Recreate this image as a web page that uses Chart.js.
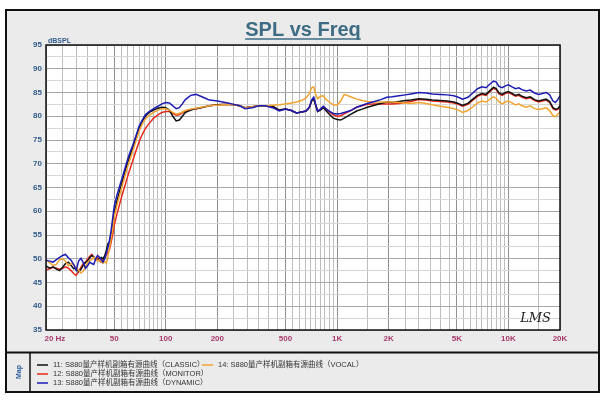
<!DOCTYPE html>
<html>
<head>
<meta charset="utf-8">
<script src="https://cdn.jsdelivr.net/npm/chart.js@4.4.1/dist/chart.umd.min.js"></script>
<style>
  html, body { margin: 0; padding: 0; background: #fff; }
  #wrap { width: 605px; height: 403px; }
</style>
</head>
<body>
<div id="wrap"><canvas id="spl" width="605" height="403"></canvas></div>
<script>
// frequency points (Hz), shared by the four curves
const freqs = [
  20, 21, 22, 23, 24, 25, 26, 27, 28, 29, 30, 31, 32, 33, 34, 35, 36, 37, 38, 39, 40, 41, 42, 43, 44, 45, 46,
  47, 48, 49, 50, 52, 54, 56, 58, 60, 62, 64, 66, 68, 70, 73, 76, 80, 85, 90, 95, 100,
  105, 110, 115, 120, 125, 130, 140, 150, 160, 170, 180, 190, 200,
  215, 230, 250, 270, 290, 320, 350, 380, 420, 460, 500, 540, 580, 620, 660, 690, 710, 730, 750, 770,
  800, 830, 860, 900, 950, 1000, 1050, 1100, 1200, 1300, 1400, 1500, 1650, 1800, 1950,
  2100, 2300, 2500, 2700, 3000, 3300, 3600, 4000, 4400, 4800, 5100, 5400, 5800, 6200, 6600, 7000, 7400, 7800, 8200, 8500,
  8800, 9200, 9600, 10000, 10500, 11000, 11500, 12000, 12700, 13400, 14200, 15000, 15800, 16600, 17400, 18200, 18800, 19400, 20000
];

// dBSPL per series
const classic = [
  48.5, 48.0, 48.3, 47.8, 47.5, 48.2, 49.0, 49.3, 48.6, 47.9, 48.0, 47.3, 47.8, 48.6, 49.2, 49.6, 50.2, 50.7, 50.4, 49.8, 49.7, 50.1, 50.3, 50.0, 50.6, 51.8, 53.2,
  53.5, 55.0, 57.0, 59.5, 62.3, 64.5, 66.5, 68.5, 70.3, 71.8, 73.2, 74.7, 76.2, 77.5, 79.0, 80.0, 80.8, 81.3, 81.7, 81.9, 81.8,
  81.3, 80.0, 79.0, 79.2, 80.0, 80.8, 81.3, 81.6, 81.8, 82.0, 82.2, 82.3, 82.4,
  82.5, 82.5, 82.4, 82.2, 81.8, 82.0, 82.2, 82.2, 82.1, 81.3, 81.5, 81.2, 80.7, 80.9, 81.1, 81.9, 83.2, 83.7, 82.3, 81.0,
  81.3, 81.8, 81.2, 80.4, 79.6, 79.3, 79.2, 79.6, 80.4, 81.1, 81.5, 81.9, 82.3, 82.7, 83.0,
  82.9, 83.1, 83.3, 83.4, 83.7, 83.6, 83.4, 83.3, 83.2, 83.0, 82.7, 82.3, 82.7, 83.6, 84.4, 84.8, 84.6, 85.4, 86.1, 85.8,
  84.9, 84.6, 85.0, 85.2, 84.8, 84.4, 84.6, 84.2, 83.9, 84.1, 83.5, 83.2, 83.4, 83.6, 83.1, 81.8, 81.5, 81.6, 82.2
];
const monitor = [
  47.6, 47.9, 48.2, 48.0, 47.8, 48.0, 48.3, 48.0, 47.5, 46.9, 46.5, 47.3, 48.2, 49.0, 49.3, 49.9, 50.5, 50.9, 50.3, 49.8, 50.2, 49.6, 49.3, 49.8, 50.3, 50.8, 51.4,
  52.0, 53.5, 55.0, 57.0, 59.5, 61.7, 63.8, 65.6, 67.4, 69.0, 70.5, 72.0, 73.4, 74.7, 76.2, 77.4, 78.5, 79.6, 80.3, 80.8, 81.0,
  81.0, 80.6, 80.2, 80.3, 80.7, 81.1, 81.4, 81.6, 81.8, 82.0, 82.2, 82.3, 82.4,
  82.5, 82.5, 82.4, 82.2, 81.8, 82.0, 82.2, 82.2, 82.1, 81.3, 81.5, 81.2, 80.7, 80.9, 81.1, 81.9, 83.2, 83.7, 82.3, 81.0,
  81.5, 82.0, 81.5, 80.9, 80.3, 80.0, 80.1, 80.5, 81.2, 81.9, 82.2, 82.5, 82.6, 82.6, 82.6,
  82.6, 82.7, 82.9, 83.1, 83.5, 83.4, 83.2, 83.1, 83.0, 82.8, 82.5, 82.1, 82.5, 83.4, 84.2, 84.6, 84.4, 85.2, 85.9, 85.6,
  84.7, 84.4, 84.8, 85.0, 84.6, 84.2, 84.4, 84.0, 83.7, 83.9, 83.3, 83.0, 83.2, 83.4, 82.9, 81.6, 81.3, 81.4, 82.0
];
const dynamic = [
  49.7, 49.5, 49.3, 49.8, 50.3, 50.7, 50.9, 50.2, 49.7, 48.8, 47.6, 49.5, 50.1, 49.2, 48.0, 48.5, 49.3, 49.0, 48.8, 50.0, 50.7, 50.3, 49.8, 49.3, 50.0, 51.2, 52.4,
  54.0, 56.0, 58.5, 61.0, 63.5, 65.5, 67.3, 69.2, 71.0, 72.5, 73.8, 75.2, 76.6, 78.0, 79.2, 80.3, 81.0, 81.6, 82.1, 82.6, 82.9,
  82.8, 82.2, 81.6, 81.8, 82.6, 83.5, 84.4, 84.6, 84.2, 83.8, 83.4, 83.3, 83.2,
  83.0, 82.8, 82.5, 82.2, 81.6, 81.8, 82.2, 82.2, 81.8, 81.1, 81.5, 81.2, 80.7, 80.9, 81.1, 82.0, 83.4, 84.0, 82.5, 81.1,
  81.5, 82.1, 81.6, 81.1, 80.6, 80.5, 80.6, 80.8, 81.2, 81.9, 82.3, 82.7, 83.1, 83.5, 84.0,
  84.1, 84.3, 84.5, 84.7, 85.0, 84.9, 84.7, 84.6, 84.5, 84.3, 84.0, 83.6, 84.0, 84.9, 85.8, 86.2, 86.0, 86.8, 87.4, 87.2,
  86.3, 86.0, 86.4, 86.6, 86.2, 85.8, 86.0, 85.6, 85.3, 85.5, 84.9, 84.6, 84.8, 85.0, 84.5, 83.2, 82.9, 83.5, 84.3
];
const vocal = [
  49.7, 49.2, 48.6, 48.8, 49.8, 50.0, 49.5, 48.5, 49.0, 48.7, 48.2, 47.6, 47.0, 47.4, 48.3, 49.2, 49.6, 49.8, 50.3, 50.0, 49.5, 49.8, 49.4, 49.0, 49.4, 49.1, 50.5,
  52.5, 54.3, 56.3, 58.7, 61.4, 63.6, 65.6, 67.6, 69.4, 71.0, 72.5, 74.0, 75.5, 76.9, 78.4, 79.4, 80.2, 80.8, 81.3, 81.6, 81.6,
  81.3, 80.8, 80.5, 80.6, 80.9, 81.2, 81.5, 81.7, 81.9, 82.0, 82.2, 82.3, 82.3,
  82.4, 82.5, 82.4, 82.2, 81.8, 82.0, 82.2, 82.2, 82.3, 82.4, 82.6, 82.8, 83.0, 83.3, 83.9, 84.8, 86.0, 86.2, 84.6, 83.7,
  84.2, 84.3, 83.6, 83.0, 82.4, 82.3, 83.2, 84.6, 84.1, 83.6, 83.3, 83.1, 83.0, 83.0, 83.0,
  83.0, 82.9, 82.8, 82.7, 82.9, 82.7, 82.4, 82.1, 81.9, 81.6, 81.3, 80.8, 81.2, 82.0, 82.8, 83.2, 83.0, 83.6, 84.1, 83.8,
  83.0, 82.6, 83.0, 83.2, 82.8, 82.4, 82.6, 82.2, 81.9, 82.2, 81.6, 81.4, 81.6, 81.8, 81.2, 80.1, 79.9, 80.4, 81.0
];

const seriesLabels = [
  '11: S880量产样机副箱有源曲线（CLASSIC）',
  '12: S880量产样机副箱有源曲线（MONITOR）',
  '13: S880量产样机副箱有源曲线（DYNAMIC）',
  '14: S880量产样机副箱有源曲线（VOCAL）'
];
const seriesColors = ['#111111', '#e8281c', '#1c1cb4', '#f2a431'];

// labelled frequencies on the x axis
const xLabelValues = [20, 50, 100, 200, 500, 1000, 2000, 5000, 10000, 20000];
const xLabelTexts = ['20 Hz', '50', '100', '200', '500', '1K', '2K', '5K', '10K', '20K'];

// grid: every half step inside each decade
function gridFreqs() {
  const out = [];
  [10, 100, 1000, 10000].forEach(d => {
    for (let m = 1; m < 10; m += 0.5) {
      const v = Math.round(m * d);
      if (v >= 20 && v <= 20000) out.push(v);
    }
  });
  out.push(20000);
  return [...new Set(out)].sort((a, b) => a - b);
}

function toPoints(vals) {
  if (vals.length !== freqs.length) console.error('length mismatch', vals.length, freqs.length);
  return vals.map((v, i) => ({ x: freqs[i], y: v }));
}

const FONT = '"Liberation Sans", Arial, "Noto Sans CJK SC", sans-serif';
const AREA = { left: 46, top: 45, right: 560, bottom: 330 };

const framePlugin = {
  id: 'frame',
  beforeDraw(chart) {
    const c = chart.ctx;
    const a = chart.chartArea;
    c.save();
    c.fillStyle = '#ffffff';
    c.fillRect(0, 0, chart.width, chart.height);
    c.fillStyle = '#ebebeb';
    c.fillRect(6, 10, 593, 382);
    c.fillStyle = '#ffffff';
    c.fillRect(a.left, a.top, a.right - a.left, a.bottom - a.top);
    c.restore();
  },
  afterDraw(chart) {
    const c = chart.ctx;
    const a = chart.chartArea;
    c.save();

    // plot border
    c.strokeStyle = '#111';
    c.lineWidth = 1.5;
    c.strokeRect(a.left, a.top, a.right - a.left, a.bottom - a.top);

    // outer frame and legend box
    c.lineWidth = 2;
    c.strokeRect(6, 10, 593, 382);
    c.beginPath();
    c.moveTo(6, 352.5); c.lineTo(599, 352.5);
    c.stroke();
    c.lineWidth = 1.5;
    c.beginPath();
    c.moveTo(30, 352.5); c.lineTo(30, 392);
    c.stroke();

    // title
    c.fillStyle = '#3d6c84';
    c.font = 'bold 20px ' + FONT;
    c.textAlign = 'center';
    c.textBaseline = 'alphabetic';
    const title = 'SPL vs Freq';
    c.fillText(title, 303, 36);
    const tw = c.measureText(title).width;
    c.strokeStyle = '#3d6c84';
    c.lineWidth = 1.5;
    c.beginPath();
    c.moveTo(303 - tw / 2, 39); c.lineTo(303 + tw / 2, 39);
    c.stroke();

    // y unit
    c.fillStyle = '#2f5a8c';
    c.font = 'bold 7px ' + FONT;
    c.textAlign = 'left';
    c.fillText('dBSPL', 48, 43);

    // watermark
    c.fillStyle = '#222';
    c.font = 'italic 13px "DejaVu Serif", serif';
    c.textAlign = 'right';
    c.fillText('LMS', 551, 322);

    // "Map" label
    c.save();
    c.translate(19, 372);
    c.rotate(-Math.PI / 2);
    c.fillStyle = '#2d5c9e';
    c.font = 'bold 7px ' + FONT;
    c.textAlign = 'center';
    c.textBaseline = 'middle';
    c.fillText('Map', 0, 0);
    c.restore();

    // legend
    const slots = [[37, 365], [37, 374], [37, 383], [202, 365]];
    c.font = '7.5px ' + FONT;
    c.textAlign = 'left';
    c.textBaseline = 'middle';
    chart.data.datasets.forEach((ds, i) => {
      const [lx, ly] = slots[i];
      c.strokeStyle = ds.borderColor;
      c.lineWidth = 1.5;
      c.beginPath();
      c.moveTo(lx, ly); c.lineTo(lx + 11, ly);
      c.stroke();
      c.fillStyle = '#333';
      c.fillText(ds.label, lx + 16, ly);
    });
    c.restore();
  }
};

const datasets = [classic, monitor, dynamic, vocal].map((vals, i) => ({
  label: seriesLabels[i],
  data: toPoints(vals),
  borderColor: seriesColors[i],
  borderWidth: 1.5,
  pointRadius: 0,
  tension: 0,
  fill: false,
  order: [2, 3, 0, 1][i]
}));

const grid = gridFreqs();

new Chart(document.getElementById('spl'), {
  type: 'line',
  data: { datasets },
  options: {
    responsive: false,
    animation: false,
    layout: { padding: { top: AREA.top, right: 605 - AREA.right, left: 0, bottom: 0 } },
    plugins: { legend: { display: false }, title: { display: false }, tooltip: { enabled: false } },
    scales: {
      x: {
        type: 'logarithmic',
        min: 20,
        max: 20000,
        afterBuildTicks: axis => { axis.ticks = grid.map(v => ({ value: v })); },
        afterFit: scale => { scale.height = 403 - AREA.bottom; },
        border: { display: false },
        grid: {
          drawTicks: false,
          lineWidth: 1,
          color: ctx => xLabelValues.includes(ctx.tick && ctx.tick.value) ? '#8f8f8f' : '#bdbdbd'
        },
        ticks: {
          autoSkip: false,
          maxRotation: 0,
          minRotation: 0,
          padding: 4,
          color: '#a8386a',
          font: { family: FONT, size: 8, weight: 'bold' },
          callback: v => {
            const k = xLabelValues.indexOf(v);
            if (k < 0) return '';
            return k === 0 ? '        ' + xLabelTexts[k] : xLabelTexts[k];
          }
        }
      },
      y: {
        min: 35,
        max: 95,
        afterFit: scale => { scale.width = AREA.left; },
        border: { display: false },
        grid: {
          drawTicks: false,
          lineWidth: 1,
          color: ctx => (ctx.tick && ctx.tick.value % 5 === 0) ? '#a9a9a9' : '#d6d6d6'
        },
        ticks: {
          stepSize: 2.5,
          autoSkip: false,
          padding: 4,
          color: '#2f5a8c',
          font: { family: FONT, size: 8, weight: 'bold' },
          callback: v => (v % 5 === 0 ? String(v) : '')
        }
      }
    }
  },
  plugins: [framePlugin]
});
</script>
</body>
</html>
